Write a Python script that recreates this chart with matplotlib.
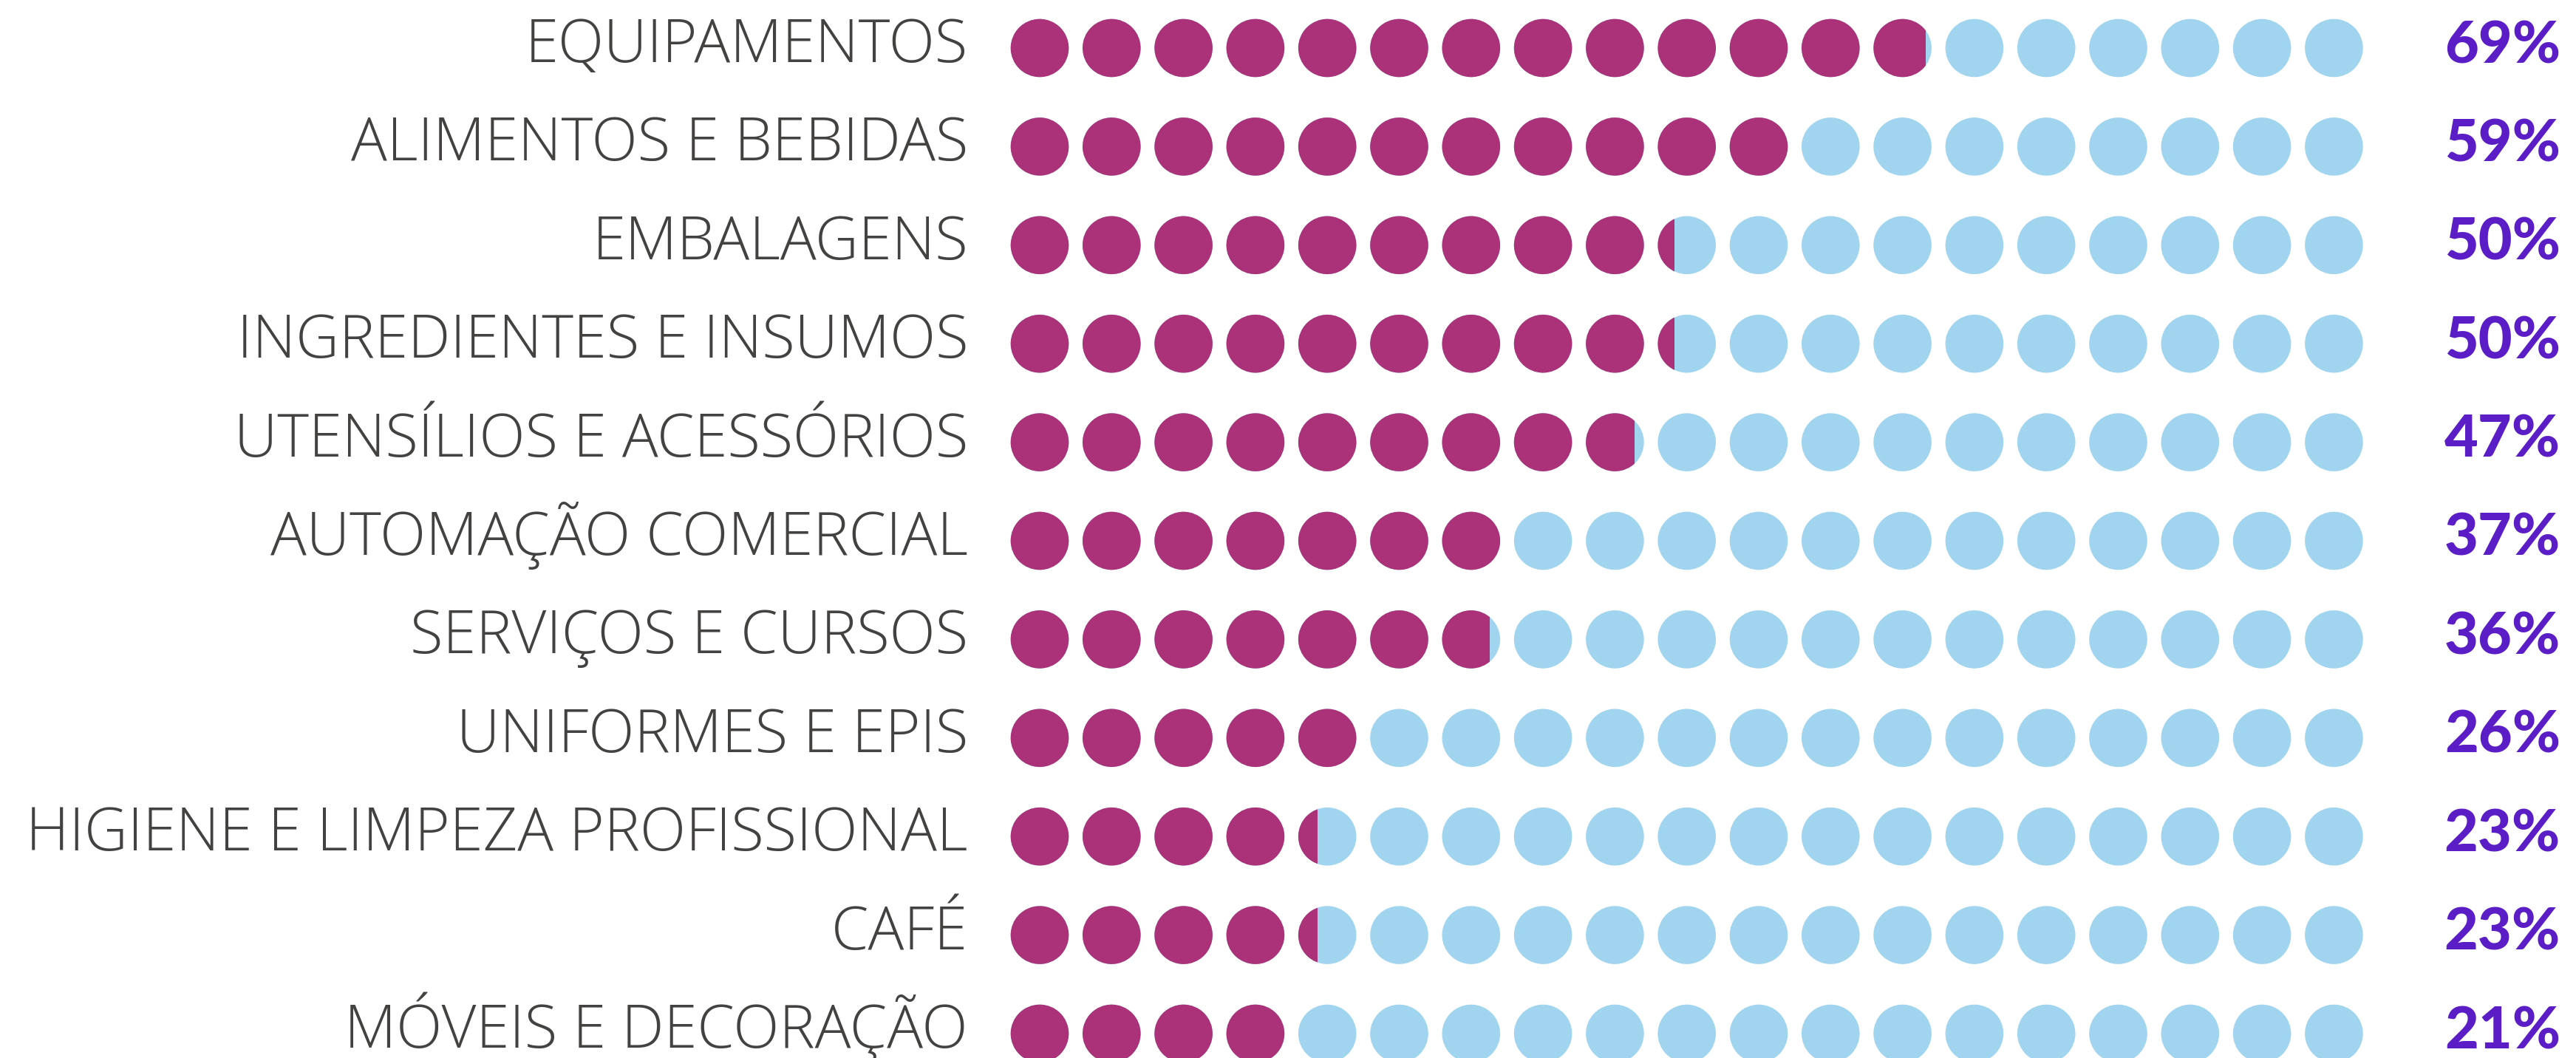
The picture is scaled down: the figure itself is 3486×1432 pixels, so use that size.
import matplotlib
matplotlib.use('Agg')
import matplotlib.pyplot as plt
from matplotlib.patches import Circle, Rectangle

# dados
categorias = ['EQUIPAMENTOS', 'ALIMENTOS E BEBIDAS', 'EMBALAGENS',
              'INGREDIENTES E INSUMOS', 'UTENSÍLIOS E ACESSÓRIOS',
              'AUTOMAÇÃO COMERCIAL', 'SERVIÇOS E CURSOS', 'UNIFORMES E EPIS',
              'HIGIENE E LIMPEZA PROFISSIONAL', 'CAFÉ', 'MÓVEIS E DECORAÇÃO']
percentuais = [69, 59, 50, 50, 47, 37, 36, 26, 23, 23, 21]
n_pontos = 19

cor_cheia = '#AB3279'
cor_vazia = '#A1D5EF'
cor_texto = '#434240'
cor_pct = '#5B1EC6'

W, H = 3487, 1432
passo = 97.3      # px entre centros
r = 39.3 / passo  # raio em unidades de ponto
passo_linha = 133.4 / passo
x0_px, y0_px = 1407, 65

fig = plt.figure(figsize=(W / 100, H / 100), dpi=100)
ax = fig.add_axes([0, 0, 1, 1])
ax.set_xlim(-x0_px / passo, (W - x0_px) / passo)
ax.set_ylim(-(H - y0_px) / passo, y0_px / passo)
ax.axis('off')

for i, (cat, p) in enumerate(zip(categorias, percentuais)):
    y = -i * passo_linha
    x_corte = -0.37 + p / 100 * 18.4  # limite do preenchimento
    for j in range(n_pontos):
        ax.add_patch(Circle((j, y), r, color=cor_vazia, lw=0))
        if x_corte > j - r:
            c = Circle((j, y), r, color=cor_cheia, lw=0)
            ax.add_patch(c)
            clip = Rectangle((j - r - 0.1, y - 1), x_corte - (j - r - 0.1), 2,
                             transform=ax.transData)
            c.set_clip_path(clip)
    ax.text((1310 - x0_px) / passo, y - 19 / passo, cat, ha='right',
            va='baseline', fontsize=58.5, color=cor_texto,
            family='Open Sans', fontweight='light')
    ax.text((3465 - x0_px) / passo, y - 20 / passo, '%d%%' % p, ha='right',
            va='baseline', fontsize=57, color=cor_pct,
            family='Lato', fontweight='black')

fig.savefig('out.png', dpi=100, facecolor='white')
